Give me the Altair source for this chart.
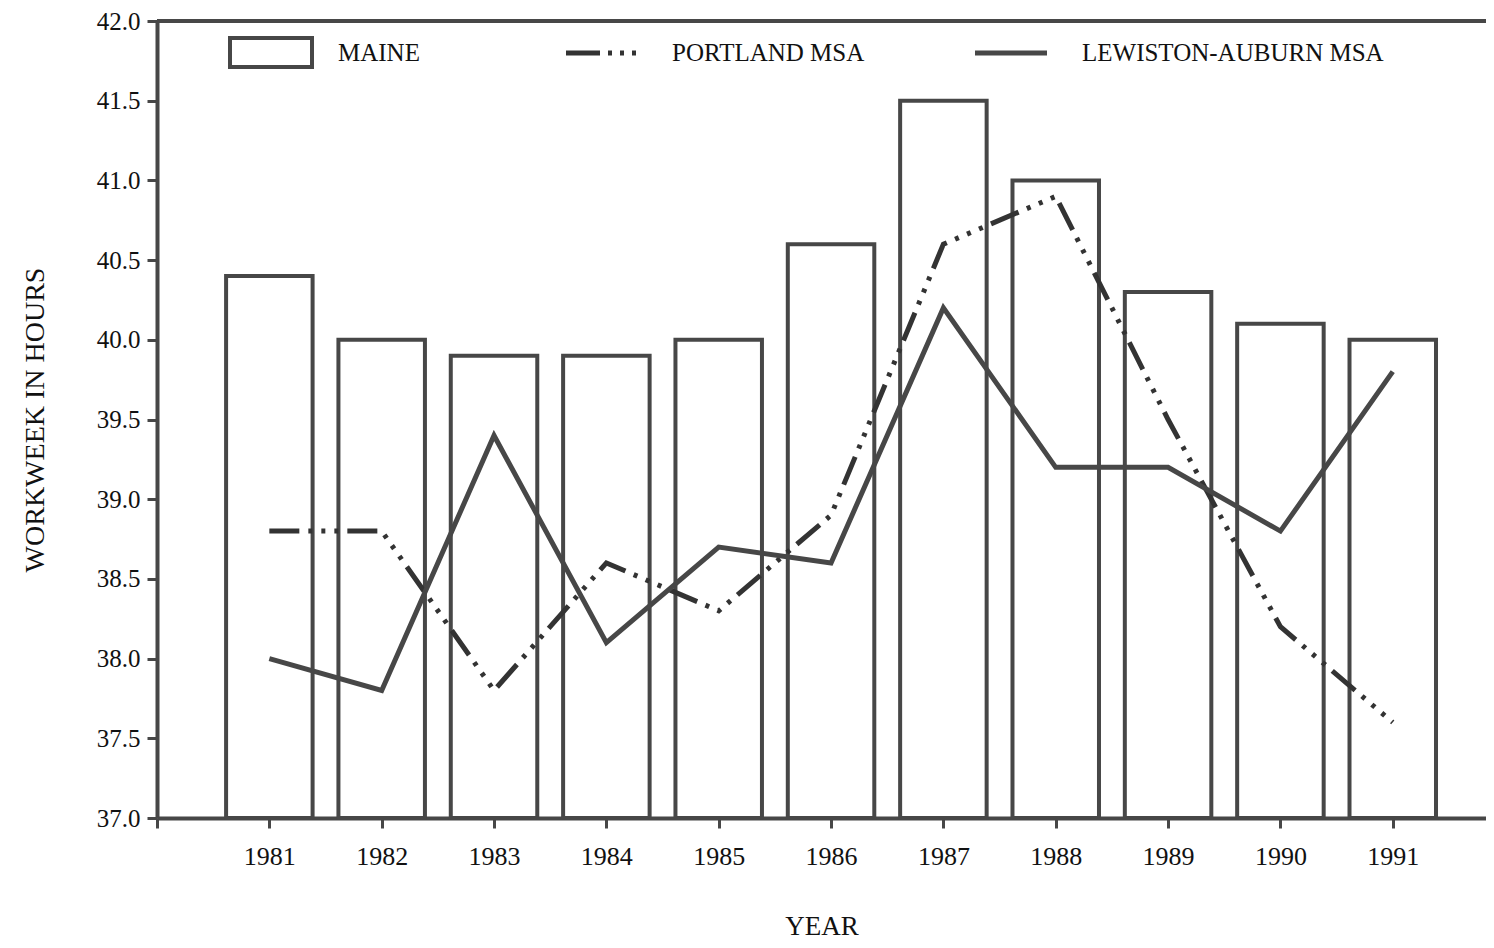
import altair as alt
import pandas as pd

years = [1981, 1982, 1983, 1984, 1985, 1986, 1987, 1988, 1989, 1990, 1991]
maine = [40.4, 40.0, 39.9, 39.9, 40.0, 40.6, 41.5, 41.0, 40.3, 40.1, 40.0]
portland = [38.8, 38.8, 37.8, 38.6, 38.3, 38.9, 40.6, 40.9, 39.5, 38.2, 37.6]
lewiston = [38.0, 37.8, 39.4, 38.1, 38.7, 38.6, 40.2, 39.2, 39.2, 38.8, 39.8]
series_names = ["MAINE", "PORTLAND MSA", "LEWISTON-AUBURN MSA"]
x_ticks = [1980, 1981, 1982, 1983, 1984, 1985, 1986, 1987, 1988, 1989, 1990, 1991]
y_ticks = [37.0, 37.5, 38.0, 38.5, 39.0, 39.5, 40.0, 40.5, 41.0, 41.5, 42.0]

FONT = "Liberation Serif"
INK = "#474747"
W, H = 1329, 797

df = pd.DataFrame({"year": years, "maine": maine, "portland": portland, "lewiston": lewiston})

xscale = alt.Scale(domain=[1980, 1991.83], nice=False, zero=False)
yscale = alt.Scale(domain=[37, 42], nice=False, zero=False)

xaxis = alt.Axis(values=x_ticks, format="d", labelExpr="datum.value == 1980 ? '' : datum.label",
                 title="YEAR", titleFont=FONT, titleFontSize=27, titleFontWeight="normal",
                 titleColor="#111", titleY=108, titleBaseline="middle",
                 labelFont=FONT, labelFontSize=26, labelColor="#111", labelPadding=15,
                 tickSize=10, tickWidth=3, tickColor=INK, domainWidth=4, domainColor=INK,
                 grid=False, labelFlush=False)
yaxis = alt.Axis(values=y_ticks, format=".1f", title="WORKWEEK IN HOURS",
                 titleFont=FONT, titleFontSize=28, titleFontWeight="normal", titleColor="#111",
                 titleX=-122, titleY=H / 2, titleAngle=270, titleAlign="center", titleBaseline="middle",
                 labelFont=FONT, labelFontSize=25, labelColor="#111", labelPadding=7,
                 tickSize=10, tickWidth=3, tickColor=INK, domainWidth=4, domainColor=INK,
                 grid=False)

base = alt.Chart(df)

bars = base.transform_calculate(
    x0="datum.year - 0.385", x1="datum.year + 0.385"
).mark_rect(fill="white", stroke=INK, strokeWidth=4).encode(
    x=alt.X("x0:Q", scale=xscale, axis=xaxis),
    x2="x1:Q",
    y=alt.Y("maine:Q", scale=yscale, axis=yaxis),
    y2=alt.datum(37.0),
)

port_line = base.mark_line(color="#333", strokeWidth=5, strokeDash=[30, 9, 4, 9, 4, 9, 4, 9],
                           strokeCap="butt").encode(
    x=alt.X("year:Q", scale=xscale),
    y=alt.Y("portland:Q", scale=yscale),
)
lew_line = base.mark_line(color=INK, strokeWidth=5).encode(
    x=alt.X("year:Q", scale=xscale),
    y=alt.Y("lewiston:Q", scale=yscale),
)

top_border = base.mark_rule(color=INK, strokeWidth=4).encode(
    x=alt.value(0), x2=alt.value(W), y=alt.value(0)
)

def legend_text(name, xpos):
    return alt.Chart(pd.DataFrame({"label": [name]})).mark_text(
        font=FONT, fontSize=25, color="#111", align="left", baseline="middle"
    ).encode(text="label:N", x=alt.value(xpos), y=alt.value(32))

one = pd.DataFrame({"k": [0]})
leg_rect = alt.Chart(one).mark_rect(fill="white", stroke=INK, strokeWidth=4).encode(
    x=alt.value(73), x2=alt.value(155), y=alt.value(17), y2=alt.value(46))
leg_port = alt.Chart(one).mark_rule(color="#333", strokeWidth=5, strokeDash=[34, 8, 4, 8, 4, 8, 4, 100],
                                    strokeCap="butt").encode(
    x=alt.value(409), x2=alt.value(482), y=alt.value(32))
leg_lew = alt.Chart(one).mark_rule(color=INK, strokeWidth=5).encode(
    x=alt.value(818), x2=alt.value(890), y=alt.value(32))

chart = alt.layer(
    bars, port_line, lew_line, top_border,
    leg_rect, legend_text(series_names[0], 181),
    leg_port, legend_text(series_names[1], 515),
    leg_lew, legend_text(series_names[2], 925),
).properties(
    width=W, height=H,
    autosize=alt.AutoSizeParams(type="none"),
    padding={"left": 149, "top": 13, "right": 0, "bottom": 122},
).configure_view(stroke=None).configure(background="white")

chart.save("out.html", embed_options={"renderer": "svg", "actions": False})
